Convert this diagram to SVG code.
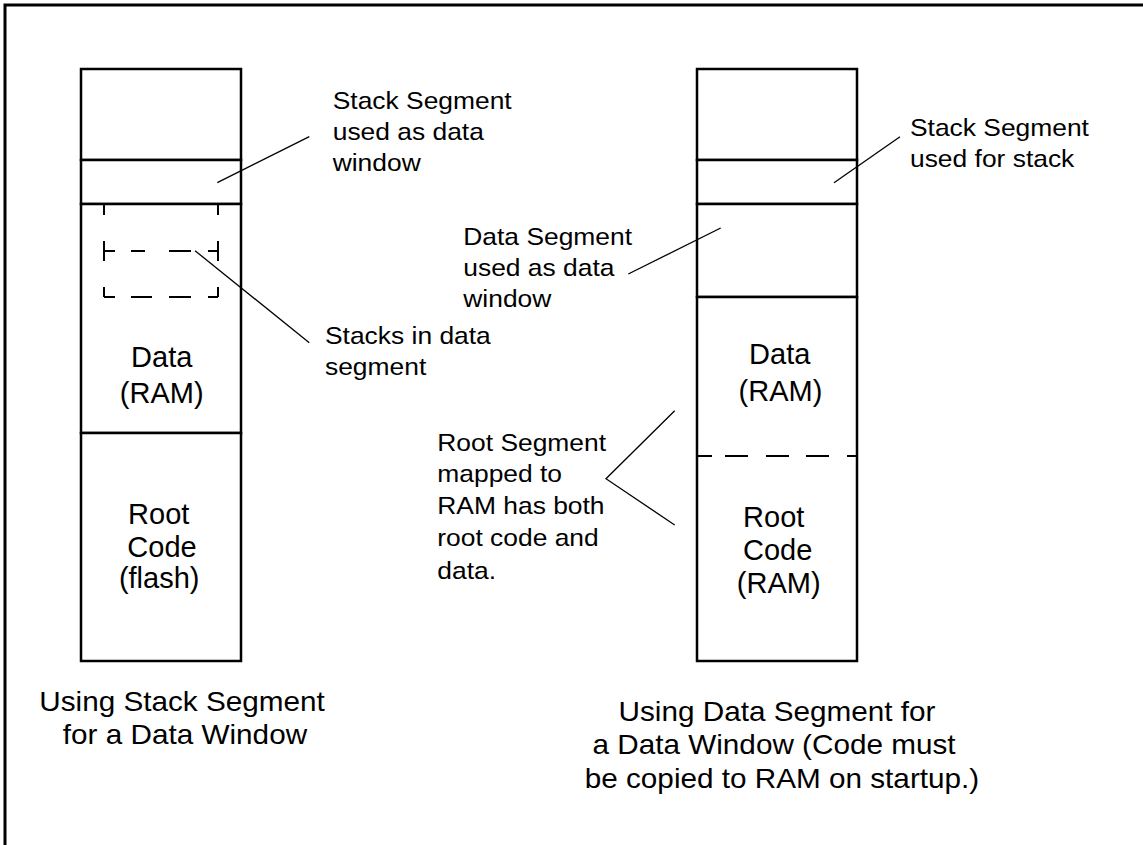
<svg xmlns="http://www.w3.org/2000/svg" width="1143" height="845" viewBox="0 0 1143 845">
<style>
  text { font-family: "Liberation Sans", Arial, sans-serif; fill: #000; }
  .lbl { font-size: 24px; }
  .big { font-size: 29px; text-anchor: middle; }
  .cap { font-size: 27px; text-anchor: middle; }
  .seg { fill: #fff; stroke: #000; stroke-width: 2.5; }
  .dash { fill: none; stroke: #000; stroke-width: 2; }
  .call { fill: none; stroke: #000; stroke-width: 1.3; }
  .frame { fill: none; stroke: #000; stroke-width: 3; }
</style>
<rect width="1143" height="845" fill="#fff"/>
<g id="frame">
  <path class="frame" d="M5,845 V5 H1143"/>
</g>

<g id="left-map">
  <g id="left-top"><rect class="seg" x="81" y="69" width="160" height="91"/></g>
  <g id="left-stack"><rect class="seg" x="81" y="160" width="160" height="44"/></g>
  <g id="left-data">
    <rect class="seg" x="81" y="204" width="160" height="229"/>
    <path class="dash" d="M104,205V215 M104,241V261 M104,287V297 M218,205V215 M218,241V261 M218,287V297 M104,251H115 M131,251H145 M169,251H191 M208,251H218 M104,297H115 M131,297H152 M169,297H191 M208,297H218"/>
    <text class="big" x="161.7" y="367">Data</text>
    <text class="big" x="161.7" y="403">(RAM)</text>
  </g>
  <g id="left-root">
    <rect class="seg" x="81" y="433" width="160" height="228"/>
    <text class="big" x="158.7" y="524">Root</text>
    <text class="big" x="162" y="557">Code</text>
    <text class="big" x="159.2" y="588">(flash)</text>
  </g>
</g>

<g id="right-map">
  <g id="right-top"><rect class="seg" x="697" y="69" width="160" height="91"/></g>
  <g id="right-stack"><rect class="seg" x="697" y="160" width="160" height="44"/></g>
  <g id="right-window"><rect class="seg" x="697" y="204" width="160" height="93"/></g>
  <g id="right-data-root">
    <rect class="seg" x="697" y="297" width="160" height="364"/>
    <path class="dash" d="M697,456H712 M725,456H748 M766,456H789 M806,456H829 M847,456H857"/>
    <text class="big" x="779.7" y="364">Data</text>
    <text class="big" x="780.5" y="401">(RAM)</text>
    <text class="big" x="773.7" y="527">Root</text>
    <text class="big" x="777.7" y="560">Code</text>
    <text class="big" x="778.7" y="593">(RAM)</text>
  </g>
</g>

<g id="connectors">
  <line class="call" x1="217.3" y1="182.7" x2="309.3" y2="136.7"/>
  <line class="call" x1="195" y1="250.7" x2="309.3" y2="342.7"/>
  <line class="call" x1="834" y1="182.7" x2="900" y2="136.7"/>
  <line class="call" x1="720.7" y1="228" x2="628.3" y2="274"/>
  <polyline class="call" points="674.7,410.7 606,478.7 674.7,525"/>
</g>

<g id="label-stack-window">
  <text class="lbl" transform="translate(332.7,0) scale(1.1,1)"><tspan x="0" y="109">Stack Segment</tspan><tspan x="0" y="140">used as data</tspan><tspan x="0" y="171">window</tspan></text>
</g>
<g id="label-stacks-in-data">
  <text class="lbl" transform="translate(325,0) scale(1.1,1)"><tspan x="0" y="344">Stacks in data</tspan><tspan x="0" y="375">segment</tspan></text>
</g>
<g id="label-stack-for-stack">
  <text class="lbl" transform="translate(910,0) scale(1.1,1)"><tspan x="0" y="136">Stack Segment</tspan><tspan x="0" y="167">used for stack</tspan></text>
</g>
<g id="label-data-window">
  <text class="lbl" transform="translate(463.3,0) scale(1.1,1)"><tspan x="0" y="245">Data Segment</tspan><tspan x="0" y="276.5">used as data</tspan><tspan x="0" y="307.5">window</tspan></text>
</g>
<g id="label-root-ram">
  <text class="lbl" transform="translate(437.3,0) scale(1.1,1)"><tspan x="0" y="451">Root Segment</tspan><tspan x="0" y="482">mapped to</tspan><tspan x="0" y="514.5">RAM has both</tspan><tspan x="0" y="546.5">root code and</tspan><tspan x="0" y="579">data.</tspan></text>
</g>

<g id="caption-left">
  <text class="cap" transform="translate(182,0) scale(1.1,1)"><tspan x="0" y="711">Using Stack Segment</tspan><tspan x="2.7" y="744">for a Data Window</tspan></text>
</g>
<g id="caption-right">
  <text class="cap" transform="translate(777,0) scale(1.1,1)"><tspan x="0" y="721">Using Data Segment for</tspan><tspan x="-2.7" y="754">a Data Window (Code must</tspan><tspan x="4.5" y="788">be copied to RAM on startup.)</tspan></text>
</g>
</svg>
